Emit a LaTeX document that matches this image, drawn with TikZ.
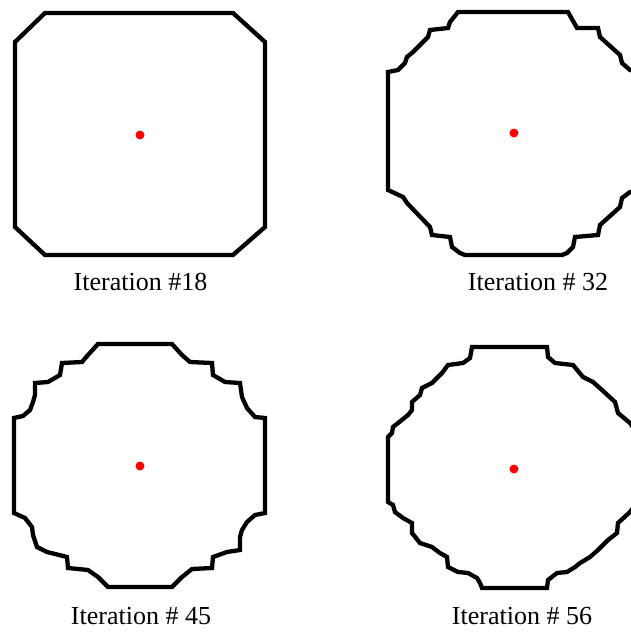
\documentclass[tikz,border=0pt]{standalone}
\usepackage{fontspec}
\setmainfont{Liberation Serif}
\tikzset{
  contour/.style={line width=4.3pt, line join=miter, black},
  seed/.style={circle, fill=red, inner sep=0pt, minimum size=9pt},
  caption/.style={anchor=base, inner sep=0pt, font=\fontsize{26}{30}\selectfont}
}
\begin{document}
\begin{tikzpicture}[x=1pt, y=-1pt]
  \useasboundingbox (0,0) rectangle (631,632);
  \clip (0,0) rectangle (631,632);

  % Iteration 18
  \draw[contour] (45,13) -- (233,13) -- (265,42) -- (265,227) -- (233,255)
    -- (45,255) -- (15,227) -- (15,42) -- cycle;
  \node[seed] (c18) at (140,135) {};
  \node[caption] (t18) at (140.5,290) {Iteration \#18};

  % Iteration 32
  \draw[contour] (458,12) -- (568,12) -- (577,28) -- (598,28) -- (600,37)
    -- (620,55) -- (622,63) -- (630,70) -- (640,72) -- (640,190)
    -- (630,192) -- (622,198) -- (620,207) -- (600,225) -- (598,235)
    -- (575,237) -- (573,247) -- (567,253) -- (562,255) -- (465,255)
    -- (460,253) -- (452,247) -- (450,237) -- (432,235) -- (430,227)
    -- (407,203) -- (403,197) -- (388,190) -- (388,72) -- (398,70)
    -- (405,63) -- (407,57) -- (413,52) -- (428,37) -- (430,30)
    -- (448,28) -- (450,22) -- cycle;
  \node[seed] (c32) at (514,133) {};
  \node[caption] (t32) at (538,290) {Iteration \# 32};

  % Iteration 45
  \draw[contour] (98,344) -- (172,344) -- (182,355) -- (190,362) -- (212,363)
    -- (213,375) -- (225,382) -- (240,383) -- (242,397) -- (247,408)
    -- (255,417) -- (265,418) -- (265,513) -- (255,515) -- (247,522)
    -- (242,530) -- (240,537) -- (240,550) -- (227,552) -- (213,557)
    -- (212,568) -- (192,569) -- (182,577) -- (172,587) -- (108,587)
    -- (98,577) -- (88,570) -- (68,568) -- (67,557) -- (47,552)
    -- (37,547) -- (33,535) -- (32,527) -- (25,518) -- (14,513)
    -- (14,418) -- (23,416) -- (30,410) -- (33,402) -- (35,395)
    -- (35,383) -- (48,382) -- (60,375) -- (62,363) -- (82,362)
    -- (88,355) -- cycle;
  \node[seed] (c45) at (140,466) {};
  \node[caption] (t45) at (141,624) {Iteration \# 45};

  % Iteration 56
  \draw[contour] (472,347) -- (547,347) -- (548,357) -- (555,363) -- (573,365)
    -- (583,377) -- (593,382) -- (602,390) -- (615,402) -- (618,413)
    -- (630,423) -- (637,433) -- (640,437) -- (640,502) -- (635,505)
    -- (630,512) -- (618,523) -- (617,533) -- (608,540) -- (598,550)
    -- (590,557) -- (580,563) -- (575,567) -- (567,572) -- (557,573)
    -- (548,580) -- (547,588) -- (482,588) -- (480,583) -- (477,578)
    -- (468,573) -- (458,572) -- (448,567) -- (447,557) -- (440,553)
    -- (432,547) -- (420,543) -- (412,533) -- (412,523) -- (403,518)
    -- (395,512) -- (393,505) -- (388,502) -- (388,437) -- (392,433)
    -- (393,427) -- (398,423) -- (408,415) -- (412,410) -- (412,402)
    -- (420,395) -- (422,388) -- (432,383) -- (442,373) -- (448,365)
    -- (463,363) -- (470,358) -- cycle;
  \node[seed] (c56) at (514,469) {};
  \node[caption] (t56) at (522,624) {Iteration \# 56};
\end{tikzpicture}
\end{document}
